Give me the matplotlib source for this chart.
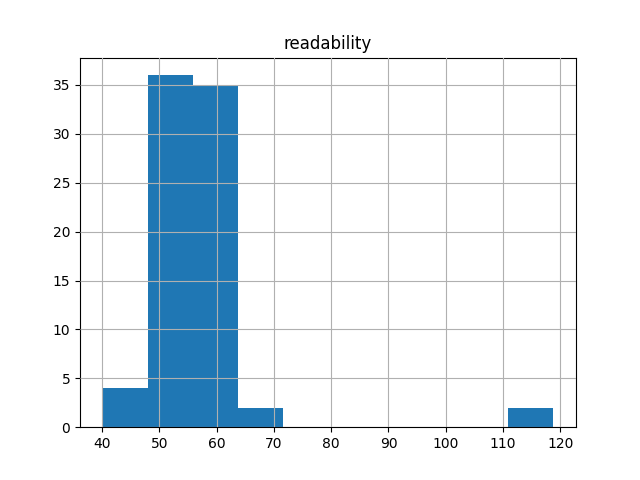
import numpy as np
import matplotlib
matplotlib.use("Agg")
import matplotlib.pyplot as plt

# histogram of readability scores (10 bins)
min_score = 40.1
max_score = 118.8
counts = [4, 36, 35, 2, 0, 0, 0, 0, 0, 2]

edges = np.linspace(min_score, max_score, len(counts) + 1)
centers = (edges[:-1] + edges[1:]) / 2

fig, ax = plt.subplots(figsize=(6.4, 4.8), dpi=100)
ax.hist(centers, bins=edges, weights=counts, color="#1f77b4")
ax.set_title("readability")
ax.grid(True)
ax.set_axisbelow(False)
for line in ax.get_xgridlines() + ax.get_ygridlines():
    line.set_color("#b0b0b0")
ax.set_xticks(np.arange(40, 121, 10))

fig.savefig("out.png")
